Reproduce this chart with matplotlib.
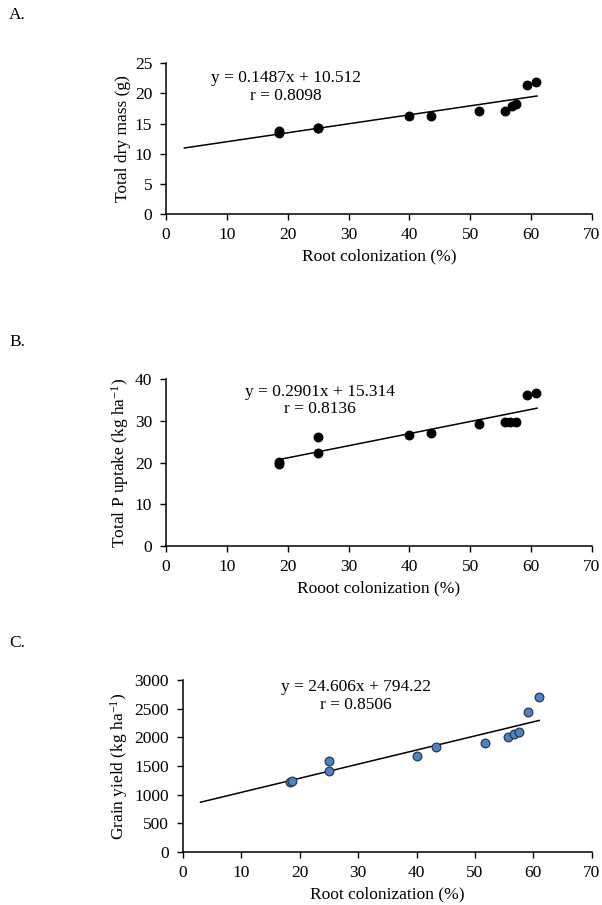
import matplotlib
matplotlib.use("Agg")
import matplotlib.pyplot as plt
import numpy as np

plt.rcParams['font.family'] = ['Liberation Serif', 'DejaVu Serif']
plt.rcParams['mathtext.fontset'] = 'custom'
plt.rcParams['mathtext.rm'] = 'Liberation Serif'
plt.rcParams['mathtext.it'] = 'Liberation Serif:italic'

# colonization (%) for each plot
col_a = [18.5, 18.5, 25, 25, 40, 43.5, 51.5, 55.8, 56.8, 57.5, 59.3, 60.8]
dry_mass = [13.5, 13.8, 14.2, 14.3, 16.3, 16.3, 17.1, 17.1, 17.9, 18.2, 21.4, 21.9]

col_b = [18.5, 18.5, 25, 25, 40, 43.5, 51.5, 55.8, 56.6, 57.5, 59.3, 60.8]
p_uptake = [19.7, 20.1, 26.2, 22.3, 26.7, 27.1, 29.2, 29.6, 29.6, 29.6, 36.2, 36.6]

col_c = [18.4, 18.6, 25, 25, 40, 43.4, 51.7, 55.7, 56.6, 57.6, 59.0, 61.0]
grain_yield = [1220, 1240, 1580, 1420, 1680, 1830, 1900, 2000, 2060, 2090, 2440, 2700]

# trend line coefficients (slope, intercept) and x span
fit_a = (0.1487, 10.512)
fit_b = (0.2901, 15.314)
fit_c = (24.606, 794.22)
span_a = (3, 61)
span_b = (18.5, 61)
span_c = (3, 61)

FS = 12.5

fig = plt.figure(figsize=(6.02, 9.05), dpi=100)


def panel(rect, xs, ys, fit, span, ylim, yticks, ylabel, xlabel, eq, r, eq_xy,
          color, edge):
    ax = fig.add_axes(rect)
    xx = np.array(span)
    ax.plot(xx, fit[0] * xx + fit[1], color='black', lw=1.1, zorder=2)
    ax.scatter(xs, ys, s=40, color=color, edgecolors=edge, linewidths=0.8, zorder=3)
    ax.set_xlim(0, 70)
    ax.set_ylim(*ylim)
    ax.set_xticks(range(0, 71, 10))
    ax.set_yticks(yticks)
    ax.spines['top'].set_visible(False)
    ax.spines['right'].set_visible(False)
    ax.spines['left'].set_linewidth(1.1)
    ax.spines['bottom'].set_linewidth(1.1)
    ax.tick_params(direction='out', length=4, width=1, labelsize=FS)
    ax.tick_params(axis='x', pad=5.5)
    ax.tick_params(axis='y', pad=6)
    ax.set_xlabel(xlabel, fontsize=FS, labelpad=3.5)
    ax.set_ylabel(ylabel, fontsize=FS, labelpad=3)
    ax.text(eq_xy[0], eq_xy[1], eq + "\n" + r, ha='center', va='top',
            fontsize=FS, linespacing=1.15)
    return ax


panel([0.276, 0.7635, 0.707, 0.1665], col_a, dry_mass, fit_a, span_a,
      (0, 25), range(0, 26, 5), "Total dry mass (g)", "Root colonization (%)",
      "y = 0.1487x + 10.512", "r = 0.8098", (19.7, 23.9), 'black', 'black')

panel([0.276, 0.3967, 0.707, 0.1845], col_b, p_uptake, fit_b, span_b,
      (0, 40), range(0, 41, 10), r"Total P uptake (kg ha$^{-1}$)",
      "Rooot colonization (%)",
      "y = 0.2901x + 15.314", "r = 0.8136", (25.3, 38.9), 'black', 'black')

panel([0.304, 0.0586, 0.679, 0.190], col_c, grain_yield, fit_c, span_c,
      (0, 3000), range(0, 3001, 500), r"Grain yield (kg ha$^{-1}$)",
      "Root colonization (%)",
      "y = 24.606x + 794.22", "r = 0.8506", (29.6, 3020), '#4f81bd', '#1f2f4f')

fig.text(0.015, 0.983, "A.", fontsize=FS, va='center')
fig.text(0.015, 0.622, "B.", fontsize=FS, va='center')
fig.text(0.015, 0.289, "C.", fontsize=FS, va='center')

fig.savefig("out.png", dpi=100)
